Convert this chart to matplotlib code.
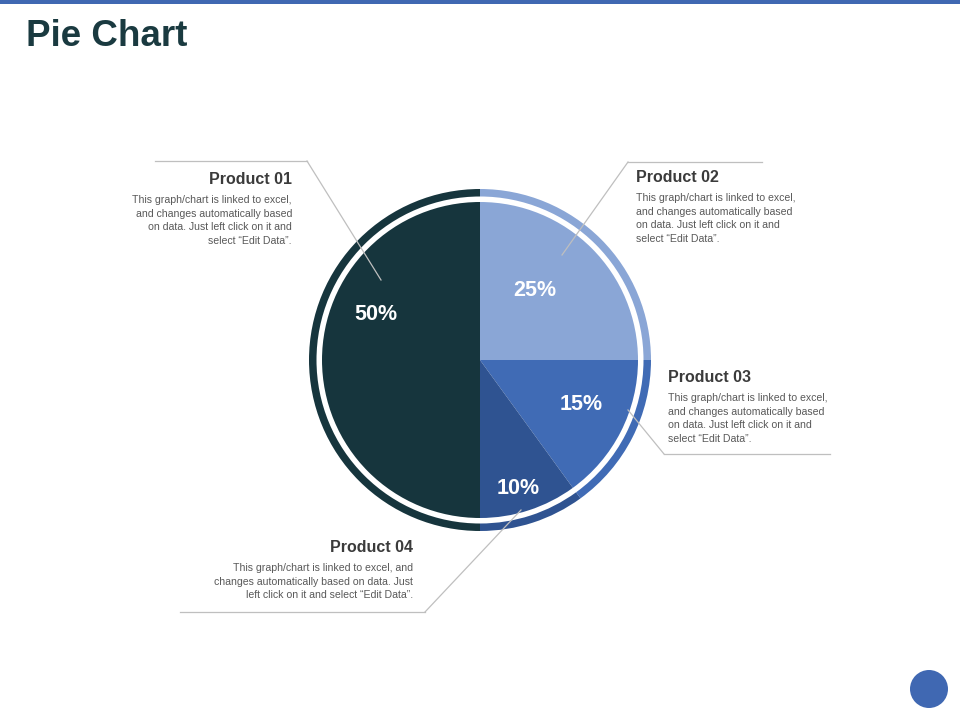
import matplotlib
matplotlib.use("Agg")
import matplotlib.pyplot as plt

# Data
products = ["Product 02", "Product 03", "Product 04", "Product 01"]
shares = [25, 15, 10, 50]
colors = ["#8aa6d6", "#406bb5", "#2f5391", "#16353d"]

plt.rcParams["font.family"] = ["Liberation Sans", "DejaVu Sans"]

fig = plt.figure(figsize=(9.6, 7.2), dpi=100)
ax = fig.add_axes([0, 0, 1, 1])
ax.axis("off")

H = 720
cx, cy = 480, H - 360

# top bar and corner dot
ax.add_patch(plt.Rectangle((0, H - 4), 960, 4, color="#4068b2", lw=0))
ax.add_patch(plt.Circle((929, H - 689), 19, color="#4068b2", lw=0))

ax.text(26, H - 37, "Pie Chart", fontsize=26.5, fontweight="bold", color="#1a3a40",
        ha="left", va="center")

# pie + outer ring
ax.pie(shares, colors=colors, startangle=90, counterclock=False,
       radius=158, center=(cx, cy), wedgeprops=dict(linewidth=0))
ax.pie(shares, colors=colors, startangle=90, counterclock=False,
       radius=171, center=(cx, cy), wedgeprops=dict(width=7.5, linewidth=0))
ax.set_xlim(0, 960)
ax.set_ylim(0, 720)
ax.set_aspect("equal")

# percentage labels
pct_pos = [(535, 290), (581, 405), (518, 488), (376, 314)]
for v, (x, y) in zip(shares, pct_pos):
    ax.text(x, H - y, f"{v}%", color="white", fontsize=15.5, fontweight="bold",
            ha="center", va="center")

# leader lines (px coords)
leaders = [
    [(628, 162), (762, 162)], [(628, 162), (562, 255)],
    [(628, 410), (664, 454)], [(664, 454), (830, 454)],
    [(521, 510), (425, 612)], [(425, 612), (180, 612)],
    [(155, 161), (307, 161)], [(307, 161), (381, 280)],
]
for seg in leaders:
    xs = [p[0] for p in seg]
    ys = [H - p[1] for p in seg]
    ax.plot(xs, ys, color="#bfbfbf", lw=0.9)

# text blocks: (x, heading y, align, wrapped lines)
blocks = [
    (636, 178, "left", ["This graph/chart is linked to excel,", "and changes automatically based",
                        "on data. Just left click on it and", "select \u201cEdit Data\u201d."]),
    (668, 378, "left", ["This graph/chart is linked to excel,", "and changes automatically based",
                        "on data. Just left click on it and", "select \u201cEdit Data\u201d."]),
    (413, 548, "right", ["This graph/chart is linked to excel, and", "changes automatically based on data. Just",
                         "left click on it and select \u201cEdit Data\u201d."]),
    (292, 180, "right", ["This graph/chart is linked to excel,", "and changes automatically based",
                         "on data. Just left click on it and", "select \u201cEdit Data\u201d."]),
]
for name, (x, y, align, lines) in zip(products, blocks):
    ax.text(x, H - y, name, fontsize=11.5, fontweight="bold", color="#3b3b3b",
            ha=align, va="center")
    ax.text(x, H - (y + 15), "\n".join(lines), fontsize=7.6, color="#595959",
            ha=align, va="top", linespacing=1.45)

fig.savefig("out.png", dpi=100)
